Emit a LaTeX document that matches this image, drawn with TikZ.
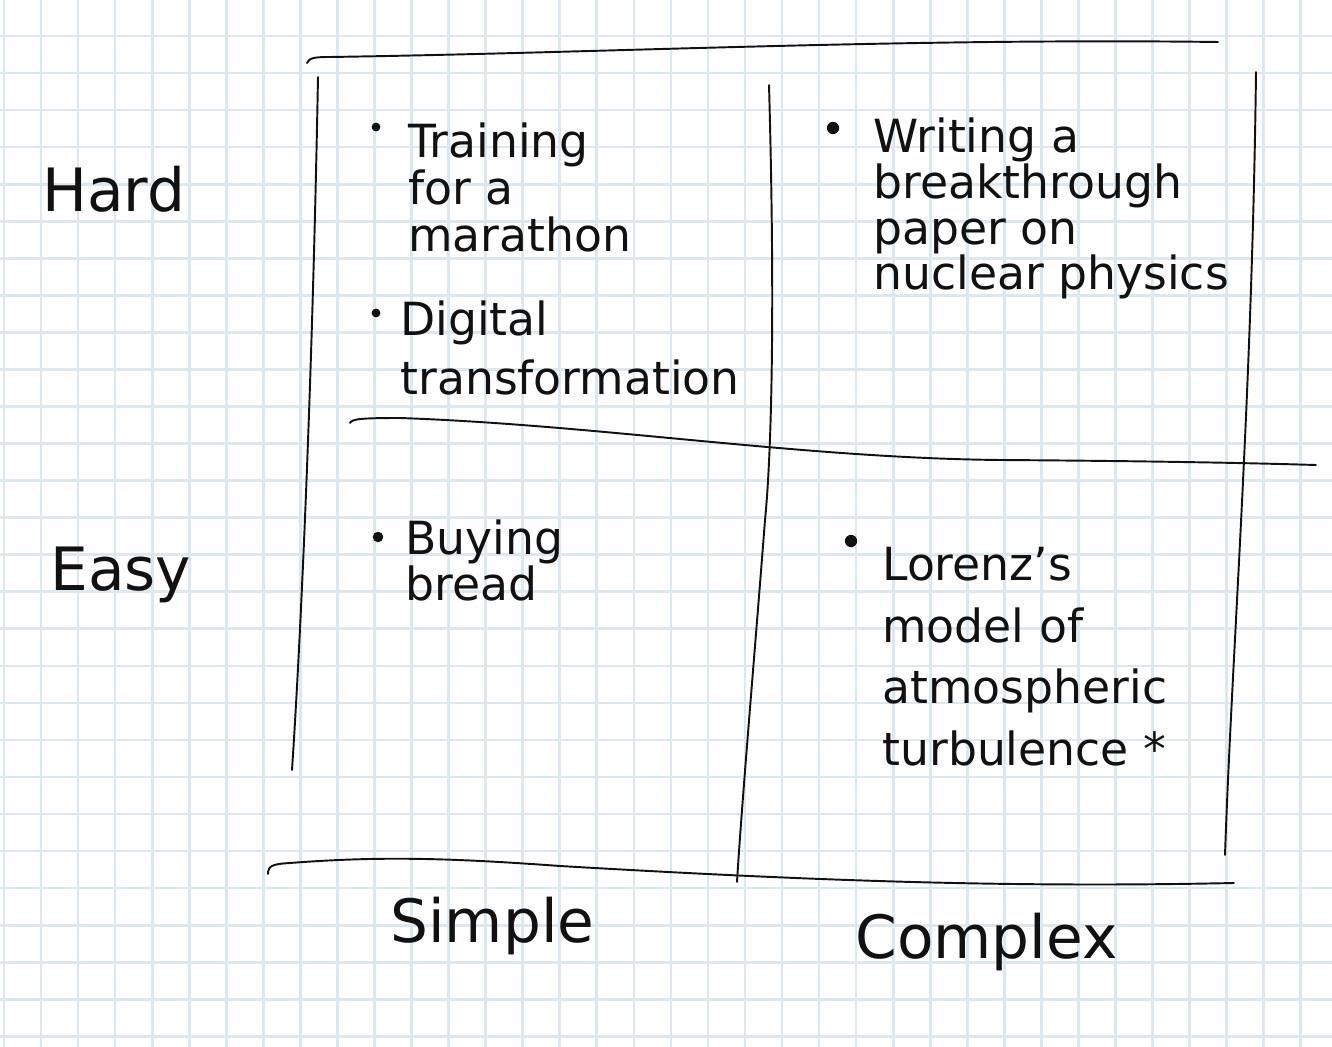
\documentclass[tikz,border=0pt]{standalone}
\usepackage{fontspec}
\setmainfont{DejaVu Sans}
\usepackage{tikz}

\definecolor{gridblue}{RGB}{221,232,238}
\definecolor{pen}{RGB}{17,17,17}

\begin{document}
\begin{tikzpicture}[x=0.02cm,y=-0.02cm,
    gridline/.style={gridblue,line width=1.5pt},
    penline/.style={pen,line width=1.1pt,line cap=round},
    axislabel/.style={pen,inner sep=0pt,anchor=base west,font=\fontsize{34}{38}\selectfont},
    item/.style={pen,inner sep=0pt,anchor=base west,align=left,font=\fontsize{26}{#1}\selectfont},
    item/.default=28,
    dot/.style={circle,fill=pen,inner sep=0pt,minimum size=#1}]
    \useasboundingbox (0,0) rectangle (1332,1047);
    \fill[white] (0,0) rectangle (1332,1047);
    % squared paper
    \foreach \i in {0,...,35}
        \draw[gridline] ({4+37.05*\i},0) -- ({4+37.05*\i},1047);
    \foreach \j in {0,...,28}
        \draw[gridline] (0,{-1.05+37.05*\j}) -- (1332,{-1.05+37.05*\j});

    % the matrix, drawn by hand
    \draw[penline] (307,63) .. controls (309,58) and (314,57) .. (330,57)
        .. controls (600,53) and (900,38) .. (1218,42);
    \draw[penline] (318,77) .. controls (312,400) and (300,650) .. (292,770);
    \draw[penline] (769,85) .. controls (775,300) and (772,450) .. (765,520)
        .. controls (755,650) and (742,800) .. (737,882);
    \draw[penline] (1256,72) .. controls (1252,400) and (1232,650) .. (1225,855);
    \draw[penline] (350,423) .. controls (352,419) and (360,418) .. (400,418)
        .. controls (600,425) and (800,458) .. (1000,460)
        .. controls (1150,461) and (1250,463) .. (1316,465);
    \draw[penline] (268,874) .. controls (268,866) and (272,864) .. (290,863)
        .. controls (380,856) and (450,858) .. (560,866)
        .. controls (800,880) and (1000,888) .. (1234,883);

    % axes
    \node[axislabel] (hard) at (42,212) {Hard};
    \node[axislabel] (easy) at (50,590) {Easy};
    \node[axislabel] (simple) at (390,942) {Simple};
    \node[axislabel] (complex) at (855,958) {Complex};

    % hard and simple (anchored on the last line)
    \node[dot=5pt] (b1) at (376,127) {};
    \node[item=27] (marathon) at (408,252) {Training\\for a\\marathon};
    \node[dot=5pt] (b2) at (376,313) {};
    \node[item=34] (digital) at (400,395) {Digital\\transformation};
    % hard and complex
    \node[dot=7pt] (b3) at (833,128) {};
    \node[item=26] (paper) at (873,290) {Writing a\\breakthrough\\paper on\\nuclear physics};
    % easy and simple
    \node[dot=6pt] (b4) at (378,537) {};
    \node[item=23] (bread) at (405,600) {Buying\\bread};
    % easy and complex
    \node[dot=7pt] (b5) at (851,541) {};
    \node[item=35] (lorenz) at (882,765) {Lorenz's\\model of\\atmospheric\\turbulence *};
\end{tikzpicture}
\end{document}
